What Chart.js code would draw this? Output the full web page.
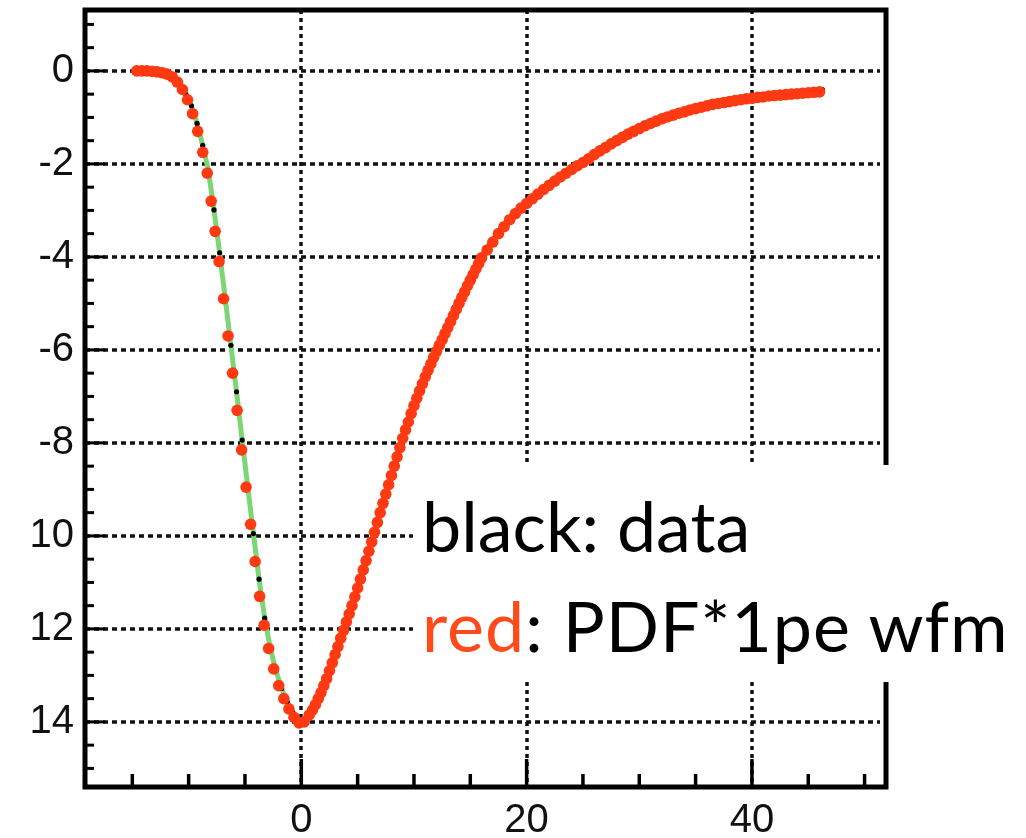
<!DOCTYPE html>
<html>
<head>
<meta charset="utf-8">
<script src="https://cdn.jsdelivr.net/npm/chart.js@4.4.1/dist/chart.umd.min.js"></script>
<style>
  html, body { margin: 0; padding: 0; background: #fff; }
  #wrap { position: relative; width: 1026px; height: 838px; }
  #legendBox {
    position: absolute;
    left: 413px;
    top: 465px;
    width: 613px;
    height: 217px;
    background: #fff;
    font-family: Lato, "Open Sans", sans-serif;
    font-size: 70px;
    line-height: 100px;
    color: #000;
    padding: 10px 0 0 9px;
    box-sizing: border-box;
    white-space: nowrap;
  }
  #legendBox .red { color: #ff4a1c; }
  #legendBox .l2 { letter-spacing: 1px; }
</style>
</head>
<body>
<div id="wrap">
  <canvas id="wfmChart"></canvas>
  <div id="legendBox">
    <div>black: data</div>
    <div class="l2"><span class="red">red</span>: PDF*1pe wfm</div>
  </div>
</div>
<script>
// red: PDF*1pe wfm
const redX = [
  -14.6, -14.15, -13.7, -13.25, -12.8, -12.35, -11.9, -11.45, -11.0, -10.55,
  -10.1, -9.65, -9.2, -8.75, -8.35, -8.0, -7.65, -7.3, -6.9, -6.5,
  -6.1, -5.7, -5.3, -4.9, -4.5, -4.1, -3.7, -3.3, -2.9, -2.45,
  -2.0, -1.55, -1.1, -0.65, -0.2, 0.25, 0.7,
  1.0, 1.5, 2.0, 2.5, 3.0, 3.5, 4.0, 4.5, 5.0, 5.5,
  6.0, 6.5, 7.0, 7.5, 8.0, 8.5, 9.0, 9.5, 10.0, 10.5,
  11.0, 11.5, 12.0, 12.5, 13.0, 13.5, 14.0, 14.5, 15.0, 15.5,
  16.0, 16.5, 17.0, 17.5, 18.0, 18.5, 19.0, 19.5, 20.0, 20.5,
  21.0, 21.5, 22.0, 22.5, 23.0, 23.5, 24.0, 24.5, 25.0, 25.5,
  26.0, 26.5, 27.0, 27.5, 28.0, 28.5, 29.0, 29.5, 30.0, 30.5,
  31.0, 31.5, 32.0, 32.5, 33.0, 33.5, 34.0, 34.5, 35.0, 35.5,
  36.0, 36.5, 37.0, 37.5, 38.0, 38.5, 39.0, 39.5, 40.0, 40.5,
  41.0, 41.5, 42.0, 42.5, 43.0, 43.5, 44.0, 44.5, 45.0, 45.5, 46.0
];
const redY = [
  0, 0, 0, -0.01, -0.02, -0.04, -0.07, -0.13, -0.24, -0.4,
  -0.62, -0.92, -1.3, -1.75, -2.2, -2.8, -3.45, -4.1, -4.9, -5.7,
  -6.5, -7.3, -8.15, -8.95, -9.75, -10.55, -11.3, -11.92, -12.42, -12.86,
  -13.22, -13.5, -13.72, -13.9, -14.02, -14.0, -13.85,
  -13.74, -13.5, -13.22, -12.9, -12.55, -12.2, -11.85, -11.5, -11.12, -10.73,
  -10.33, -9.92, -9.5, -9.1, -8.7, -8.3, -7.9, -7.55, -7.2, -6.88,
  -6.58, -6.3, -6.03, -5.78, -5.52, -5.26, -5.0, -4.75, -4.5, -4.26,
  -4.02, -3.85, -3.68, -3.5, -3.35, -3.2, -3.07, -2.95, -2.85, -2.75,
  -2.65, -2.55, -2.46, -2.37, -2.28, -2.2, -2.12, -2.04, -1.97, -1.89,
  -1.8, -1.72, -1.65, -1.57, -1.5, -1.43, -1.36, -1.3, -1.24, -1.18,
  -1.13, -1.08, -1.03, -0.99, -0.95, -0.91, -0.88, -0.84, -0.81, -0.78,
  -0.75, -0.72, -0.7, -0.68, -0.66, -0.64, -0.62, -0.6, -0.59, -0.57,
  -0.56, -0.54, -0.53, -0.52, -0.51, -0.5, -0.49, -0.48, -0.47, -0.46, -0.45
];
// extra red samples on the rising edge, where the dots sit closer together
const redEdgeX = [
  1.25, 1.75, 2.25, 2.75, 3.25, 3.75, 4.25, 4.75, 5.25, 5.75,
  6.25, 6.75, 7.25, 7.75, 8.25, 8.75, 9.25, 9.75, 10.25, 10.75,
  11.25, 11.75, 12.25, 12.75, 13.25, 13.75, 14.25, 14.75, 15.25, 15.75
];
const redEdgeY = [
  -13.63, -13.37, -13.07, -12.73, -12.38, -12.03, -11.68, -11.31, -10.93, -10.53,
  -10.13, -9.71, -9.3, -8.9, -8.5, -8.1, -7.72, -7.37, -7.04, -6.73,
  -6.44, -6.16, -5.9, -5.65, -5.39, -5.13, -4.87, -4.62, -4.38, -4.14
];

// black: data
const blackX = [
  -14.25, -13.75, -13.25, -12.75, -12.25, -11.75, -11.25, -10.75, -10.25, -9.75,
  -9.25, -8.75, -8.25, -7.75, -7.25, -6.75, -6.25, -5.75, -5.25, -4.75,
  -4.25, -3.75, -3.25, -2.75, -2.25, -1.75, -1.25, -0.75, -0.25, 0.25,
  0.75, 1.25, 1.75, 2.25, 2.75, 3.25, 3.75, 4.25, 4.75, 5.25,
  5.75, 6.25, 6.75, 7.25, 7.75, 8.25, 8.75, 9.25, 9.75, 10.25,
  10.75, 11.25, 11.75, 12.25, 12.75, 13.25, 13.75, 14.25, 14.75, 15.25,
  15.75, 16.25, 16.75, 17.25, 17.75, 18.25, 18.75, 19.25, 19.75, 20.25,
  20.75, 21.25, 21.75, 22.25, 22.75, 23.25, 23.75, 24.25, 24.75, 25.25,
  25.75, 26.25, 26.75, 27.25, 27.75, 28.25, 28.75, 29.25, 29.75, 30.25,
  30.75, 31.25, 31.75, 32.25, 32.75, 33.25, 33.75, 34.25, 34.75, 35.25,
  35.75, 36.25, 36.75, 37.25, 37.75, 38.25, 38.75, 39.25, 39.75, 40.25,
  40.75, 41.25, 41.75, 42.25, 42.75, 43.25, 43.75, 44.25, 44.75, 45.25,
  45.75, 46.25
];
const blackY = [
  0, 0, 0, -0.02, -0.04, -0.08, -0.15, -0.3, -0.5, -0.75,
  -1.13, -1.6, -2.14, -2.99, -3.91, -4.9, -5.9, -6.9, -7.94, -8.95,
  -9.95, -10.93, -11.77, -12.42, -12.9, -13.28, -13.57, -13.8, -13.97, -14.0,
  -13.8, -13.58, -13.32, -13.02, -12.68, -12.33, -11.98, -11.63, -11.27, -10.88,
  -10.49, -10.08, -9.67, -9.26, -8.86, -8.46, -8.06, -7.68, -7.33, -7.0,
  -6.69, -6.4, -6.12, -5.86, -5.61, -5.35, -5.09, -4.83, -4.58, -4.34,
  -4.1, -3.89, -3.72, -3.55, -3.38, -3.23, -3.09, -2.97, -2.86, -2.76,
  -2.66, -2.56, -2.47, -2.38, -2.29, -2.2, -2.12, -2.04, -1.96, -1.89,
  -1.81, -1.72, -1.64, -1.57, -1.49, -1.42, -1.36, -1.29, -1.23, -1.17,
  -1.11, -1.06, -1.02, -0.97, -0.93, -0.89, -0.86, -0.82, -0.79, -0.76,
  -0.73, -0.7, -0.67, -0.65, -0.63, -0.61, -0.59, -0.57, -0.55, -0.54,
  -0.52, -0.51, -0.5, -0.48, -0.47, -0.46, -0.45, -0.44, -0.43, -0.42,
  -0.41, -0.4
];

const xTickValues = [0, 20, 40];
const xTickLabels = ["0", "20", "40"];
const yTickValues = [0, -2, -4, -6, -8, -10, -12, -14];
const yTickLabels = ["0", "-2", "-4", "-6", "-8", "10", "12", "14"];

const toPoints = (xs, ys) => xs.map((x, i) => ({ x: x, y: ys[i] }));

// dotted grid, thick frame and inward ticks like the original plot
const framePlugin = {
  id: "frame",
  beforeDatasetsDraw(chart) {
    const ctx = chart.ctx;
    const a = chart.chartArea;
    const xs = chart.scales.x;
    const ys = chart.scales.y;
    ctx.save();
    ctx.strokeStyle = "#111";
    ctx.lineWidth = 3.5;
    ctx.setLineDash([5, 4]);
    yTickValues.forEach((v) => {
      const py = Math.round(ys.getPixelForValue(v));
      ctx.beginPath();
      ctx.moveTo(a.left, py);
      ctx.lineTo(a.right - 6, py);
      ctx.stroke();
    });
    ctx.setLineDash([4, 4]);
    xTickValues.forEach((v) => {
      const px = Math.round(xs.getPixelForValue(v));
      ctx.beginPath();
      ctx.moveTo(px, a.top);
      ctx.lineTo(px, a.bottom);
      ctx.stroke();
    });
    ctx.restore();
  },
  afterDatasetsDraw(chart) {
    const ctx = chart.ctx;
    const a = chart.chartArea;
    const xs = chart.scales.x;
    const ys = chart.scales.y;
    ctx.save();
    ctx.strokeStyle = "#000";
    ctx.setLineDash([]);
    // y ticks
    ctx.lineWidth = 3;
    for (let v = -15; v <= 1; v += 0.5) {
      const py = ys.getPixelForValue(v);
      const len = v % 2 === 0 ? 20 : 9;
      ctx.beginPath();
      ctx.moveTo(a.left, py);
      ctx.lineTo(a.left + len, py);
      ctx.stroke();
    }
    // x ticks
    ctx.lineWidth = 3.5;
    for (let v = -15; v <= 50; v += 5) {
      const px = xs.getPixelForValue(v);
      const len = v % 20 === 0 ? 28 : 13;
      ctx.beginPath();
      ctx.moveTo(px, a.bottom);
      ctx.lineTo(px, a.bottom - len);
      ctx.stroke();
    }
    ctx.lineWidth = 5;
    ctx.strokeRect(a.left, a.top, a.right - a.left, a.bottom - a.top);
    ctx.restore();
  },
};

const ctx = document.getElementById("wfmChart").getContext("2d");
new Chart(ctx, {
  type: "scatter",
  data: {
    datasets: [
      {
        label: "PDF*1pe wfm",
        data: toPoints(redX, redY).concat(toPoints(redEdgeX, redEdgeY)),
        backgroundColor: "rgb(255, 58, 18)",
        borderWidth: 0,
        pointRadius: 5.8,
        pointHoverRadius: 5.8,
      },
      {
        label: "data",
        data: toPoints(blackX, blackY),
        backgroundColor: "#000",
        borderWidth: 0,
        pointRadius: 2.6,
      },
      {
        label: "fit",
        data: toPoints(blackX, blackY),
        showLine: true,
        borderColor: "rgb(125, 214, 118)",
        borderWidth: 5,
        pointRadius: 0,
        tension: 0,
      },
    ],
  },
  options: {
    responsive: true,
    maintainAspectRatio: false,
    animation: false,
    layout: { padding: { top: 10, right: 140, left: 0, bottom: 0 } },
    plugins: {
      legend: { display: false },
      tooltip: { enabled: false },
    },
    scales: {
      x: {
        type: "linear",
        min: -19.2,
        max: 51.9,
        grid: { display: false, drawTicks: false },
        border: { display: false },
        afterBuildTicks: (scale) => {
          scale.ticks = xTickValues.map((v) => ({ value: v }));
        },
        afterFit: (scale) => {
          scale.height = 51;
          scale.paddingLeft = 0;
          scale.paddingRight = 0;
        },
        ticks: {
          padding: 10,
          maxRotation: 0,
          color: "#111",
          font: { family: "'Liberation Sans', Arial, sans-serif", size: 40 },
          callback: (value, index) => xTickLabels[index],
        },
      },
      y: {
        type: "linear",
        min: -15.4,
        max: 1.31,
        grid: { display: false, drawTicks: false },
        border: { display: false },
        afterBuildTicks: (scale) => {
          scale.ticks = yTickValues.map((v) => ({ value: v }));
        },
        afterFit: (scale) => {
          scale.width = 85;
          scale.paddingTop = 0;
          scale.paddingBottom = 0;
        },
        ticks: {
          padding: 11,
          color: "#111",
          font: { family: "'Liberation Sans', Arial, sans-serif", size: 40 },
          callback: (value, index) => yTickLabels[index],
        },
      },
    },
  },
  plugins: [framePlugin],
});
</script>
</body>
</html>
